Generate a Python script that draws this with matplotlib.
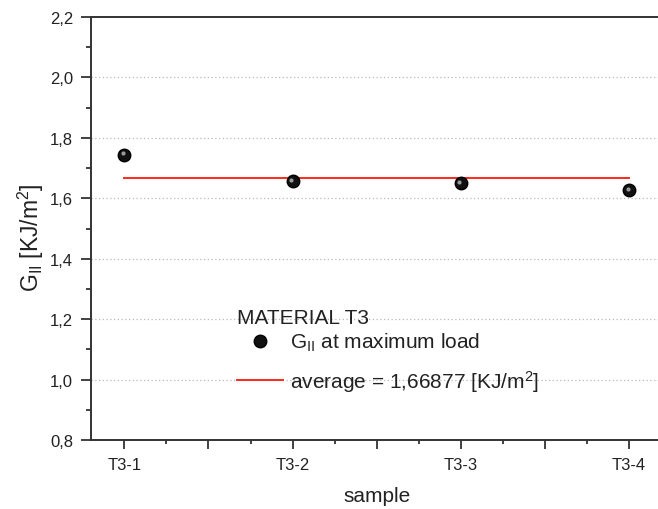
import matplotlib

matplotlib.use("Agg")
import matplotlib.pyplot as plt
import matplotlib.transforms as mtransforms
from matplotlib.ticker import FuncFormatter, MultipleLocator

samples = ["T3-1", "T3-2", "T3-3", "T3-4"]
g_values = [1.744, 1.657, 1.649, 1.626]
average = 1.66877

plt.rcParams["font.family"] = ["Liberation Sans", "DejaVu Sans"]
plt.rcParams["mathtext.fontset"] = "custom"
plt.rcParams["mathtext.rm"] = "Liberation Sans"
plt.rcParams["mathtext.it"] = "Liberation Sans:italic"

fig = plt.figure(figsize=(6.58, 5.10), dpi=100)
ax = fig.add_axes([90.7 / 658, 69 / 510, 572 / 658, 423 / 510])

x = list(range(1, len(samples) + 1))
ax.plot(x, g_values, "o", color="#111111", markersize=9, markeredgecolor="#000000",
        label=r"G$_{\mathrm{II}}$ at maximum load", zorder=3)
shine = mtransforms.offset_copy(ax.transData, fig=fig, x=-1.5, y=1.5, units="dots")
ax.plot(x, g_values, "o", color="#9a9a9a", markersize=3, markeredgewidth=0,
        transform=shine, zorder=4)
ax.plot([x[0], x[-1]], [average, average], color="#ff2a1a", linewidth=1.4,
        label="average = " + f"{average:.5f}".replace(".", ",") + r" [KJ/m$^{2}$]",
        zorder=2)

ax.set_xlim(0.8, 4.2)
ax.set_ylim(0.8, 2.2)
ax.xaxis.set_major_locator(MultipleLocator(0.5))
ax.xaxis.set_minor_locator(MultipleLocator(0.25))
ax.xaxis.set_major_formatter(FuncFormatter(
    lambda v, pos: samples[int(round(v)) - 1] if abs(v - round(v)) < 1e-6 and 1 <= round(v) <= len(samples) else ""))
ax.yaxis.set_major_locator(MultipleLocator(0.2))
ax.yaxis.set_minor_locator(MultipleLocator(0.1))
ax.yaxis.set_major_formatter(FuncFormatter(lambda v, pos: f"{v:.1f}".replace(".", ",")))

ax.tick_params(which="both", direction="out", color="#333333", width=1.3, labelsize=12,
               labelcolor="#222222")
ax.tick_params(axis="x", which="major", length=6.2, pad=6)
ax.tick_params(axis="x", which="minor", length=2.8)
ax.tick_params(axis="y", which="major", length=7.2, pad=5.5)
ax.tick_params(axis="y", which="minor", length=3.6)
for side in ax.spines.values():
    side.set_linewidth(1.4)
    side.set_color("#333333")

for v in [1.0, 1.2, 1.4, 1.6, 1.8, 2.0]:
    ax.axhline(v, color="#b8b8b8", linewidth=0.9, linestyle=(0, (1, 2)), zorder=1)

ax.set_xlabel("sample", fontsize=15, color="#222222", labelpad=10)
ax.set_ylabel(r"G$_{\mathrm{II}}$ [KJ/m$^{2}$]", fontsize=16.5, color="#222222")
ax.yaxis.set_label_coords(-0.078, 0.48)

fig.text(237 / 658, 1 - 318 / 510, "MATERIAL T3", fontsize=15, color="#222222",
         ha="left", va="center")
leg = ax.legend(loc="upper left", bbox_to_anchor=(237 / 658, 1 - 332 / 510),
                bbox_transform=fig.transFigure, frameon=False, fontsize=15,
                handlelength=2.2, handletextpad=0.35, labelspacing=0.7,
                borderpad=0, borderaxespad=0)
for t in leg.get_texts():
    t.set_color("#222222")

fig.savefig("out.png", dpi=100)
